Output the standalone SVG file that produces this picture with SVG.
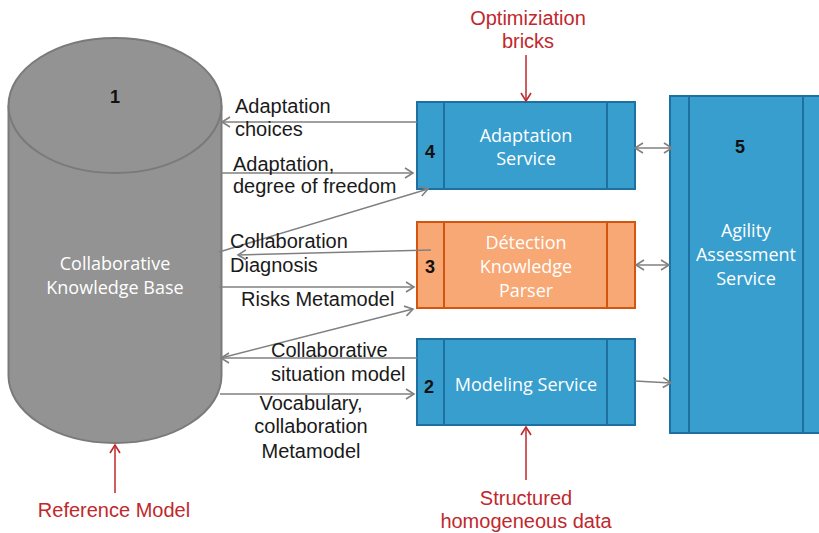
<svg xmlns="http://www.w3.org/2000/svg" width="819" height="533" viewBox="0 0 819 533">
  <defs>
    <marker id="ah" viewBox="-10 -7 12 14" refX="0" refY="0" markerWidth="12" markerHeight="14" markerUnits="userSpaceOnUse" orient="auto-start-reverse">
      <path d="M-8,-5 L0,0 L-8,5" fill="none" stroke="#808080" stroke-width="1.6"/>
    </marker>
    <marker id="ahr" viewBox="-10 -7 12 14" refX="0" refY="0" markerWidth="12" markerHeight="14" markerUnits="userSpaceOnUse" orient="auto">
      <path d="M-8,-5 L0,0 L-8,5" fill="none" stroke="#c0282d" stroke-width="1.6"/>
    </marker>
  </defs>
  <style>
    .lbl { font-family: "Liberation Sans", Arial, sans-serif; font-size: 20px; fill: #1a1a1a; }
    .red { font-family: "Liberation Sans", Arial, sans-serif; font-size: 20px; fill: #c0282d; text-anchor: middle; }
    .num { font-family: "Liberation Sans", Arial, sans-serif; font-size: 18px; font-weight: bold; fill: #111; text-anchor: middle; }
    .nt { font-family: "Open Sans", "Liberation Sans", sans-serif; font-size: 18px; fill: #ffffff; text-anchor: middle; }
    .blue { fill: #379ece; stroke: #1d70a0; stroke-width: 2; }
    .orange { fill: #f8a874; stroke: #d2560f; stroke-width: 2; }
    .bdiv { stroke: #1d70a0; stroke-width: 2; }
    .odiv { stroke: #d2560f; stroke-width: 2; }
    .conn { fill: none; stroke: #808080; stroke-width: 1.5; }
    .rconn { fill: none; stroke: #c0282d; stroke-width: 1.5; }
  </style>

  <!-- Knowledge base cylinder -->
  <g id="node1">
    <path d="M8.5,105.5 L8.5,375.5 A106.5,67.5 0 0 0 221.5,375.5 L221.5,105.5" fill="#939393" stroke="#7a7a7a" stroke-width="2"/>
    <ellipse cx="115" cy="105.5" rx="106.5" ry="67.5" fill="#939393" stroke="#7a7a7a" stroke-width="2"/>
    <text class="num" x="115" y="103">1</text>
    <text class="nt" x="115" y="270">Collaborative</text>
    <text class="nt" x="115" y="294">Knowledge Base</text>
  </g>

  <!-- Adaptation service -->
  <g id="node4">
    <rect class="blue" x="417" y="102" width="218" height="87"/>
    <line class="bdiv" x1="444" y1="102" x2="444" y2="189"/>
    <line class="bdiv" x1="607" y1="102" x2="607" y2="189"/>
    <text class="num" x="430" y="158">4</text>
    <text class="nt" x="526" y="142">Adaptation</text>
    <text class="nt" x="526" y="165">Service</text>
  </g>

  <!-- Detection knowledge parser -->
  <g id="node3">
    <rect class="orange" x="417" y="222" width="218" height="86"/>
    <line class="odiv" x1="444" y1="222" x2="444" y2="308"/>
    <line class="odiv" x1="607" y1="222" x2="607" y2="308"/>
    <text class="num" x="430" y="273">3</text>
    <text class="nt" x="526" y="249">Détection</text>
    <text class="nt" x="526" y="273">Knowledge</text>
    <text class="nt" x="526" y="297">Parser</text>
  </g>

  <!-- Modeling service -->
  <g id="node2">
    <rect class="blue" x="417" y="339" width="218" height="86"/>
    <line class="bdiv" x1="444" y1="339" x2="444" y2="425"/>
    <line class="bdiv" x1="607" y1="339" x2="607" y2="425"/>
    <text class="num" x="429" y="393">2</text>
    <text class="nt" x="526" y="391">Modeling Service</text>
  </g>

  <!-- Agility assessment service -->
  <g id="node5">
    <rect class="blue" x="670" y="96" width="170" height="337"/>
    <line class="bdiv" x1="689" y1="96" x2="689" y2="433"/>
    <line class="bdiv" x1="803" y1="96" x2="803" y2="433"/>
    <text class="num" x="740" y="153">5</text>
    <text class="nt" x="746" y="237">Agility</text>
    <text class="nt" x="746" y="261">Assessment</text>
    <text class="nt" x="746" y="285">Service</text>
  </g>

  <!-- Connectors -->
  <g id="connectors">
    <line class="conn" x1="417" y1="122" x2="222" y2="122" marker-end="url(#ah)"/>
    <line class="conn" x1="221" y1="173" x2="413" y2="173" marker-end="url(#ah)"/>
    <line class="conn" x1="219" y1="252" x2="428" y2="189" marker-end="url(#ah)"/>
    <line class="conn" x1="431" y1="250" x2="238" y2="255" marker-end="url(#ah)"/>
    <line class="conn" x1="219" y1="287" x2="414" y2="287" marker-end="url(#ah)"/>
    <line class="conn" x1="221" y1="358" x2="413" y2="309" marker-end="url(#ah)"/>
    <line class="conn" x1="417" y1="358" x2="221" y2="358" marker-end="url(#ah)"/>
    <line class="conn" x1="220" y1="394" x2="414" y2="394" marker-end="url(#ah)"/>
    <line class="conn" x1="635" y1="148" x2="672" y2="148" marker-start="url(#ah)" marker-end="url(#ah)"/>
    <line class="conn" x1="636" y1="265" x2="669" y2="265" marker-start="url(#ah)" marker-end="url(#ah)"/>
    <line class="conn" x1="635" y1="381" x2="671" y2="383" marker-end="url(#ah)"/>
    <line class="rconn" x1="526" y1="55" x2="526" y2="101" marker-end="url(#ahr)"/>
    <line class="rconn" x1="526" y1="480" x2="526" y2="427" marker-end="url(#ahr)"/>
    <line class="rconn" x1="115" y1="493" x2="115" y2="445" marker-end="url(#ahr)"/>
  </g>

  <!-- Connector labels -->
  <g id="labels">
    <text class="lbl" x="235" y="113">Adaptation</text>
    <text class="lbl" x="235" y="136">choices</text>
    <text class="lbl" x="233" y="171">Adaptation,</text>
    <text class="lbl" x="233" y="193">degree of freedom</text>
    <text class="lbl" x="230" y="248">Collaboration</text>
    <text class="lbl" x="230" y="272">Diagnosis</text>
    <text class="lbl" x="241" y="306">Risks Metamodel</text>
    <text class="lbl" x="271" y="357">Collaborative</text>
    <text class="lbl" x="271" y="381">situation model</text>
    <text class="lbl" x="311" y="410" text-anchor="middle">Vocabulary,</text>
    <text class="lbl" x="311" y="433" text-anchor="middle">collaboration</text>
    <text class="lbl" x="311" y="458" text-anchor="middle">Metamodel</text>
    <text class="red" x="528" y="25">Optimiziation</text>
    <text class="red" x="528" y="48">bricks</text>
    <text class="red" x="526" y="505">Structured</text>
    <text class="red" x="526" y="528">homogeneous data</text>
    <text class="red" x="114" y="517">Reference Model</text>
  </g>
</svg>
